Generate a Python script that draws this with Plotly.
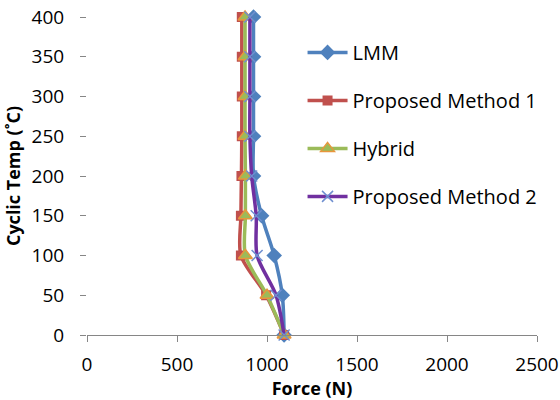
import plotly.graph_objects as go

temps = [0, 50, 100, 150, 200, 250, 300, 350, 400]
lmm = [1095, 1085, 1040, 970, 925, 925, 925, 925, 925]
pm1 = [1095, 995, 855, 855, 858, 860, 860, 860, 860]
hybrid = [1095, 1000, 880, 880, 880, 878, 878, 878, 878]
pm2 = [1095, 1050, 945, 940, 915, 905, 905, 905, 905]

names = ["LMM", "Proposed Method 1", "Hybrid", "Proposed Method 2"]
series = [lmm, pm1, hybrid, pm2]
colors = ["#4F81BD", "#C0504D", "#9BBB59", "#7030A0"]
symbols = ["diamond", "square", "triangle-up", "x-thin"]
msizes = [12, 10, 12, 11]
mline = [dict(width=0), dict(width=0), dict(width=1.5, color="#E8963C"),
         dict(width=1.5, color="#6F8FD0")]

fig = go.Figure()
for i, (n, s) in enumerate(zip(names, series)):
    fig.add_trace(go.Scatter(
        x=s, y=temps, name=n, mode="lines+markers",
        line=dict(color=colors[i], width=3.5, shape="spline", smoothing=0.8),
        marker=dict(symbol=symbols[i], size=msizes[i], color=colors[i], line=mline[i]),
        legendgroup=n, cliponaxis=False,
    ))

fig.update_layout(
    width=560, height=400,
    margin=dict(l=87, r=23, t=17, b=65),
    paper_bgcolor="white", plot_bgcolor="white",
    font=dict(family="Open Sans, Liberation Sans, sans-serif", size=18, color="#000"),
    showlegend=True,
    legend=dict(x=0.479, y=0.95, xanchor="left", yanchor="top",
                font=dict(size=20), tracegroupgap=19, itemwidth=40,
                bgcolor="rgba(0,0,0,0)"),
    xaxis=dict(range=[0, 2500], tickvals=[0, 500, 1000, 1500, 2000, 2500],
               showgrid=False, zeroline=False, showline=True, linecolor="#868686",
               linewidth=1, ticks="outside", ticklen=6, tickcolor="#868686",
               ticklabelstandoff=6, tickfont=dict(size=19), automargin=False,
               title=dict(text="<b>Force (N)</b>", font=dict(size=18), standoff=2)),
    yaxis=dict(range=[0, 400], tickvals=[0, 50, 100, 150, 200, 250, 300, 350, 400],
               showgrid=False, zeroline=False, showline=False,
               ticks="outside", ticklen=6, tickcolor="#868686",
               ticklabelstandoff=12, tickfont=dict(size=19), automargin=False,
               title=dict(text="<b>Cyclic Temp (˚C)</b>", font=dict(size=18), standoff=6)),
)

fig.write_html("out.html")
